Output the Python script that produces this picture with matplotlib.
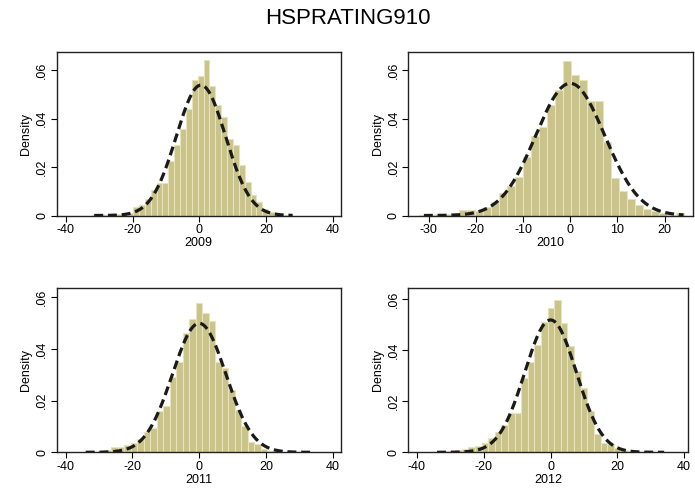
import numpy as np
import matplotlib
matplotlib.use('Agg')
import matplotlib.pyplot as plt

plt.rcParams['font.family'] = ['Liberation Sans', 'DejaVu Sans']

title = 'HSPRATING910'
years = ['2009', '2010', '2011', '2012']

# histogram bins: first left edge, bin width, densities
start_2009, width_2009 = -32.14, 1.76
dens_2009 = [0.0003, 0.0007, 0.0003, 0.0004, 0.0005, 0.0008, 0.0010,
             0.0035, 0.0043, 0.0069, 0.0104, 0.0134, 0.0134, 0.0224,
             0.0293, 0.0356, 0.0439, 0.0559, 0.0577, 0.0642, 0.0535,
             0.0455, 0.0407, 0.0317, 0.0290, 0.0207, 0.0138, 0.0086,
             0.0055, 0.0025, 0.0013, 0.0008, 0.0004, 0.0003]

start_2010, width_2010 = -32.1, 1.7
dens_2010 = [0.0003, 0.0004, 0.0005, 0.0008, 0.0011, 0.0023, 0.0023,
             0.0020, 0.0034, 0.0055, 0.0092, 0.0124, 0.0160, 0.0240,
             0.0330, 0.0364, 0.0457, 0.0520, 0.0638, 0.0580, 0.0562,
             0.0473, 0.0473, 0.0302, 0.0154, 0.0103, 0.0069, 0.0044,
             0.0027, 0.0020, 0.0010, 0.0004, 0.0011]

start_2011, width_2011 = -34.15, 1.95
dens_2011 = [0.0003, 0.0003, 0.0005, 0.0008, 0.0022, 0.0022, 0.0030,
             0.0037, 0.0050, 0.0080, 0.0095, 0.0160, 0.0180, 0.0290,
             0.0350, 0.0460, 0.0515, 0.0577, 0.0538, 0.0506, 0.0350,
             0.0325, 0.0240, 0.0164, 0.0102, 0.0041, 0.0032, 0.0012,
             0.0006, 0.0004, 0.0003, 0.0003, 0.0002, 0.0002, 0.0002]

start_2012, width_2012 = -34.54, 1.98
dens_2012 = [0.0003, 0.0004, 0.0005, 0.0008, 0.0012, 0.0020, 0.0026,
             0.0035, 0.0055, 0.0080, 0.0107, 0.0153, 0.0155, 0.0290,
             0.0355, 0.0420, 0.0510, 0.0564, 0.0596, 0.0505, 0.0416,
             0.0320, 0.0250, 0.0163, 0.0072, 0.0035, 0.0033, 0.0015,
             0.0008, 0.0005, 0.0003, 0.0003, 0.0002, 0.0002, 0.0002]

# normal overlay: mean, sd, range drawn
norm_2009 = (0.5, 7.4, -31.5, 28.0)
norm_2010 = (0.0, 7.3, -31.0, 24.0)
norm_2011 = (0.0, 8.0, -34.0, 34.0)
norm_2012 = (0.0, 7.7, -34.0, 34.0)

xticks_wide = [-40, -20, 0, 20, 40]
xticks_2010 = [-30, -20, -10, 0, 10, 20]
yticks = [0, 0.02, 0.04, 0.06]
ytick_labels = ['0', '.02', '.04', '.06']

panels = [
    (start_2009, width_2009, dens_2009, norm_2009, xticks_wide, (-42.8, 42.5), 0.0676,
     (56.5, 52, 341, 215.5)),
    (start_2010, width_2010, dens_2010, norm_2010, xticks_2010, (-34.3, 25.9), 0.0676,
     (408.3, 52, 692.5, 215.5)),
    (start_2011, width_2011, dens_2011, norm_2011, xticks_wide, (-42.7, 42.5), 0.0634,
     (56.7, 288.3, 341, 452.3)),
    (start_2012, width_2012, dens_2012, norm_2012, xticks_wide, (-42.6, 41.0), 0.0642,
     (408.3, 288.3, 687.5, 452.3)),
]

W, H = 695, 497
fig = plt.figure(figsize=(W / 100, H / 100), dpi=100)
fig.patch.set_facecolor('white')

bar_face = '#CAC48A'
bar_edge = '#E6E3BF'

for (start, w, dens, norm, xt, xl, ytop, box), year in zip(panels, years):
    x0, y0, x1, y1 = box
    ax = fig.add_axes([x0 / W, 1 - y1 / H, (x1 - x0) / W, (y1 - y0) / H])
    lefts = start + w * np.arange(len(dens))
    ax.bar(lefts, dens, width=w, align='edge', color=bar_face,
           edgecolor=bar_edge, linewidth=0.8, zorder=2)
    mu, sd, lo, hi = norm
    xs = np.linspace(lo, hi, 300)
    ys = np.exp(-0.5 * ((xs - mu) / sd) ** 2) / (sd * np.sqrt(2 * np.pi))
    ax.plot(xs, ys, color='#1a1a1a', lw=2.3, linestyle=(0, (2.8, 1.5)), zorder=3)
    ax.set_xlim(*xl)
    ax.set_ylim(0, ytop)
    ax.set_xticks(xt)
    ax.set_xticklabels([str(t) for t in xt])
    ax.set_yticks(yticks)
    ax.set_yticklabels(ytick_labels, rotation=90, va='center')
    ax.tick_params(direction='out', length=4, width=0.8, labelsize=9, pad=2,
                   colors='black')
    for s in ax.spines.values():
        s.set_linewidth(1.0)
        s.set_color('#222222')
    ax.set_xlabel(year, fontsize=9, labelpad=1)
    ax.set_ylabel('Density', fontsize=9, labelpad=3)

fig.text(0.5, 1 - 19 / H, title, ha='center', va='center', fontsize=16)

fig.savefig('out.png', dpi=100, facecolor='white')
